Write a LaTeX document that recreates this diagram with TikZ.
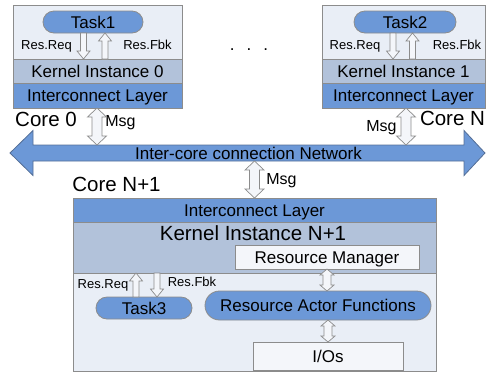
\documentclass[tikz,border=0pt]{standalone}
\usepackage{fontspec}
\setmainfont{Liberation Sans}
\usepackage{tikz}
\usetikzlibrary{calc, backgrounds}
\definecolor{boxbg}{RGB}{233,238,246}
\definecolor{kernbg}{RGB}{178,194,218}
\definecolor{icbg}{RGB}{108,152,215}
\definecolor{edgegray}{RGB}{140,140,140}
\definecolor{arrowbg}{RGB}{244,246,250}
\definecolor{netedge}{RGB}{84,110,150}
\tikzset{
  every node/.append style={inner sep=0pt, outer sep=0pt},
  corebox/.style={draw=edgegray, fill=boxbg, line width=0.8pt},
  kernband/.style={draw=edgegray, fill=kernbg, line width=0.8pt, font=\fontsize{17}{18}\selectfont, text height=12.2pt, text depth=0pt},
  icband/.style={draw=edgegray, fill=icbg, line width=0.8pt, font=\fontsize{17}{18}\selectfont, text height=12.2pt, text depth=0pt},
  pill/.style={draw=edgegray, fill=icbg, line width=0.8pt, minimum height=22, rounded corners=11, font=\fontsize{17}{18}\selectfont, text height=12.2pt, text depth=0pt},
  plainbox/.style={draw=edgegray, fill=arrowbg, line width=0.8pt, font=\fontsize{17}{18}\selectfont, text height=12.2pt, text depth=0pt},
  corelabel/.style={font=\fontsize{20.5}{22}\selectfont, text height=14.7pt, text depth=0pt},
  reslabel/.style={font=\fontsize{13}{14}\selectfont, text height=9.3pt, text depth=0pt},
  msglabel/.style={font=\fontsize{16}{17}\selectfont, text height=11.5pt, text depth=0pt},
  nettext/.style={font=\fontsize{17}{18}\selectfont, text height=12.2pt, text depth=0pt},
  hollow/.style={draw=edgegray, fill=arrowbg, line width=0.7pt, line join=miter},
}
% block arrow: tail, tip, shaft half width, head half width, head length
\newcommand{\hollowone}[5]{%
  \draw[hollow] let \p1=(#1), \p2=(#2), \n1={ifthenelse(\y2>\y1,#5,-#5)} in
    ({\x1-#3},\y1) -- ({\x1-#3},{\y2-(\n1)}) -- ({\x1-#4},{\y2-(\n1)}) -- (\x1,\y2)
    -- ({\x1+#4},{\y2-(\n1)}) -- ({\x1+#3},{\y2-(\n1)}) -- ({\x1+#3},\y1) -- cycle;}
% block arrow with two heads
\newcommand{\hollowtwo}[5]{%
  \draw[hollow] let \p1=(#1), \p2=(#2), \n1={ifthenelse(\y2>\y1,#5,-#5)} in
    (\x1,\y1) -- ({\x1+#4},{\y1+(\n1)}) -- ({\x1+#3},{\y1+(\n1)}) -- ({\x1+#3},{\y2-(\n1)})
    -- ({\x1+#4},{\y2-(\n1)}) -- (\x1,\y2) -- ({\x1-#4},{\y2-(\n1)}) -- ({\x1-#3},{\y2-(\n1)})
    -- ({\x1-#3},{\y1+(\n1)}) -- ({\x1-#4},{\y1+(\n1)}) -- cycle;}

\begin{document}
\begin{tikzpicture}[x=1pt, y=-1pt]
    \useasboundingbox (0,0) rectangle (486,373);
    \clip (0,0) rectangle (486,373);
    % core 0
    \node[corebox, minimum width=169, minimum height=103] (core0) at (97.5,56.5) {};
    \node[kernband, minimum width=169, minimum height=24] (k0) at (97.5,71) {Kernel Instance 0};
    \node[icband, minimum width=169, minimum height=25] (ic0) at (97.5,95.5) {Interconnect Layer};
    \node[pill, minimum width=100] (task1) at (93,22) {Task1};
    \node[reslabel] (req0) at (46.5,45) {Res.Req};
    \node[reslabel] (fbk0) at (147.5,45) {Res.Fbk};
    \node[corelabel] (lab0) at (46,119.5) {Core 0};
    % core 1
    \node[corebox, minimum width=163, minimum height=103] (core1) at (403.5,56.5) {};
    \node[kernband, minimum width=163, minimum height=24] (k1) at (403.5,71) {Kernel Instance 1};
    \node[icband, minimum width=163, minimum height=25] (ic1) at (403.5,95.5) {Interconnect Layer};
    \node[pill, minimum width=102] (task2) at (405,22) {Task2};
    \node[reslabel] (req1) at (355,45) {Res.Req};
    \node[reslabel] (fbk1) at (457,45) {Res.Fbk};
    \node[corelabel, anchor=west] (lab1) at (420,118) {Core N};
    \node[font=\fontsize{17}{18}\selectfont, text height=0pt, text depth=0pt] (dots) at (249,50.5) {.\hspace{12pt}.\hspace{12pt}.};
    % the network
    \node[nettext, minimum width=431, minimum height=16] (net) at (248.5,153) {Inter-core connection Network};
    \begin{scope}[on background layer]
        \draw[fill=icbg, draw=netedge, line width=0.8pt] (net.north west) -- (net.north east)
            -- ([yshift=14.5pt]net.north east) -- ([xshift=21pt]net.east) -- ([yshift=-14.5pt]net.south east)
            -- (net.south east) -- (net.south west) -- ([yshift=-14.5pt]net.south west)
            -- ([xshift=-23pt]net.west) -- ([yshift=14.5pt]net.north west) -- cycle;
    \end{scope}
    % core N+1
    \node[corelabel] (labN) at (116.5,184.5) {Core N+1};
    \node[corebox, minimum width=363, minimum height=173] (coreN) at (254.5,284.5) {};
    \node[icband, minimum width=363, minimum height=24] (icN) at (254.5,210) {Interconnect Layer};
    \node[kernband, minimum width=363, minimum height=51] (kN) at (254.5,247.5) {};
    \node[corelabel] (kNlabel) at (253,233.5) {Kernel Instance N+1};
    \node[plainbox, minimum width=184, minimum height=24] (rm) at (327,257) {Resource Manager};
    \node[pill, minimum width=226, minimum height=29, rounded corners=14.5] (raf) at (318,305.5) {Resource Actor Functions};
    \node[plainbox, minimum width=150, minimum height=28] (io) at (328,356) {I/Os};
    \node[pill, minimum width=96] (task3) at (144,308) {Task3};
    \node[reslabel] (reqN) at (103,284) {Res.Req};
    \node[reslabel] (fbkN) at (192,282) {Res.Fbk};
    % Msg labels
    \node[msglabel] (msg0) at (120.5,121) {Msg};
    \node[msglabel] (msg1) at (381.5,126) {Msg};
    \node[msglabel] (msgN) at (281.5,179) {Msg};
    % requests and feedback
    \hollowone{$(task1.south)+(-9.5,0)$}{k0.north}{3}{6.5}{8}
    \hollowone{$(task1.south |- k0.north)+(12,0)$}{task1.south}{3}{6.5}{8}
    \hollowone{$(task2.south)+(-12,0)$}{k1.north}{3}{6.5}{8}
    \hollowone{$(task2.south |- k1.north)+(7.5,0)$}{task2.south}{3}{6.5}{8}
    \hollowone{$(task3.north)+(-8,0)$}{kN.south}{3}{6.5}{8}
    \hollowone{$(task3.north |- kN.south)+(13,0)$}{task3.north}{3}{6.5}{8}
    % messages
    \hollowtwo{$(ic0.south)+(-0.5,0)$}{net.north}{5}{9.5}{9}
    \hollowtwo{$(ic1.south)+(2.5,0)$}{net.north}{5}{9.5}{9}
    \hollowtwo{$(net.south)+(6,0)$}{icN.north}{5}{9.5}{9}
    \hollowtwo{rm.south}{raf.north}{4}{7}{6}
    \hollowtwo{io.north}{raf.south}{4}{7}{6}
\end{tikzpicture}
\end{document}
